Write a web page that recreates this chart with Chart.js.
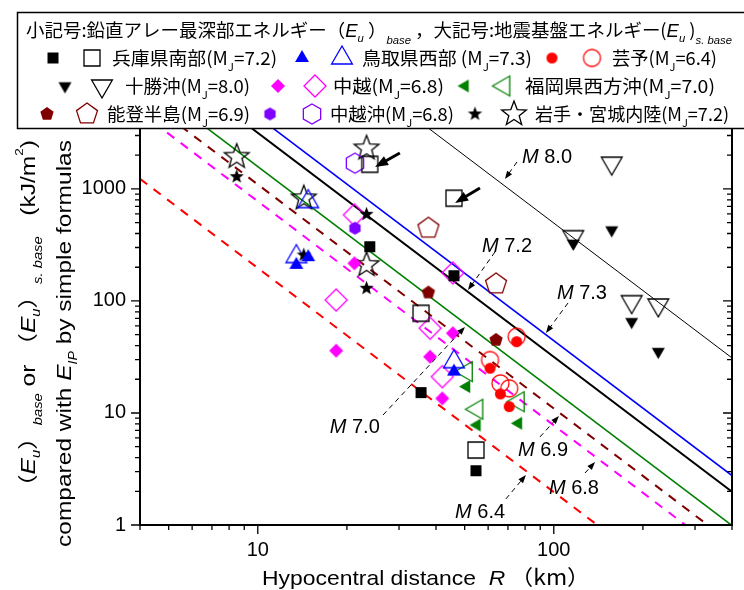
<!DOCTYPE html>
<html>
<head>
<meta charset="utf-8">
<script src="https://cdn.jsdelivr.net/npm/chart.js@4.4.0/dist/chart.umd.min.js"></script>
<style>
  html, body { margin: 0; padding: 0; background: #fff; }
</style>
</head>
<body>
<canvas id="energyChart" width="744" height="590"></canvas>
<script>
// hypocentral distance R (km); small marks = (Eu)base, large marks = (Eu)s.base (kJ/m2)
const hyogoR = [23.9, 46.0, 35.6, 54.6];
const hyogoBase = [305, 168, 15.2, 3.05];
const hyogoSBase = [1660, 826, 77.6, 4.67];

const tottoriR = [13.5, 14.8, 46.0];
const tottoriBase = [210, 246, 23.4];
const tottoriSBase = [249, 771, 28.7];

const geiyoR = [74.9, 60.9, 66.0, 70.7];
const geiyoBase = [43.3, 25.1, 14.8, 11.4];
const geiyoSBase = [48.0, 29.7, 18.4, 16.6];

const tokachiR = [156.9, 116.4, 183.3, 225.4];
const tokachiBase = [430, 327, 65.3, 35.3];
const tokachiSBase = [1700, 375, 98.6, 92.1];

const chuetsuR = [21.2, 18.4, 38.2, 42.0, 45.6];
const chuetsuBase = [217, 36.0, 31.8, 13.5, 51.5];
const chuetsuSBase = [587, 102, 57.1, 21.1, 178];

const fukuokaR = [50.7, 55.0, 75.9];
const fukuokaBase = [17.2, 7.81, 8.09];
const fukuokaSBase = [23.4, 10.8, 12.6];

const notoR = [37.7, 63.8];
const notoBase = [119, 44.9];
const notoSBase = [446, 142];

const chuetsuokiR = [21.3];
const chuetsuokiBase = [446];
const chuetsuokiSBase = [1700];

const iwateR = [8.49, 14.3, 23.3, 23.3];
const iwateBase = [1288, 257, 594, 130];
const iwateSBase = [1943, 826, 2308, 210];

// simple-formula lines, end values at R = 4 and R = 400
const lineR = [4, 400];
const lineM80 = [310000, 31];
const lineM73 = [27600, 2.76];
const lineM72 = [19800, 1.98];
const lineM70 = [9900, 0.99];
const lineM69 = [6850, 0.686];
const lineM68 = [4850, 0.485];
const lineM64 = [1230, 0.123];

const xTickLabels = [10, 100];
const yTickLabels = [1, 10, 100, 1000];
const xMinorTicks = [4, 5, 6, 7, 8, 9, 20, 30, 40, 50, 60, 70, 80, 90, 200, 300, 400];
const yMinorTicks = [2, 3, 4, 5, 6, 7, 8, 9, 20, 30, 40, 50, 60, 70, 80, 90,
  200, 300, 400, 500, 600, 700, 800, 900, 2000, 3000];

const JP = '"Noto Sans CJK JP"';
const LS = '"Liberation Sans"';

// ---------- marker images ----------
function shapePath(ctx, shape, r) {
  ctx.beginPath();
  if (shape === 'square') { ctx.rect(-r, -r, 2 * r, 2 * r); return; }
  if (shape === 'circle') { ctx.arc(0, 0, r, 0, Math.PI * 2); return; }
  let n = 3, rot = -90, inner = 0;
  if (shape === 'triDown') rot = 90;
  if (shape === 'triLeft') rot = 180;
  if (shape === 'diamond') n = 4;
  if (shape === 'pentagon') n = 5;
  if (shape === 'hexagon') n = 6;
  if (shape === 'star') { n = 5; inner = 0.42; }
  const steps = inner ? n * 2 : n;
  for (let i = 0; i < steps; i++) {
    const a = (rot + i * 360 / steps) * Math.PI / 180;
    const rr = inner && (i % 2) ? r * inner : r;
    if (i === 0) ctx.moveTo(rr * Math.cos(a), rr * Math.sin(a));
    else ctx.lineTo(rr * Math.cos(a), rr * Math.sin(a));
  }
  ctx.closePath();
}

function makeMarker(shape, r, color, filled) {
  const lw = 1.3;
  const size = Math.ceil(2 * r + lw + 4);
  const c = document.createElement('canvas');
  c.width = size;
  c.height = size;
  const ctx = c.getContext('2d');
  ctx.translate(size / 2, size / 2);
  shapePath(ctx, shape, r);
  if (filled) {
    ctx.fillStyle = color;
    ctx.fill();
  } else {
    ctx.strokeStyle = color;
    ctx.lineWidth = lw;
    ctx.stroke();
  }
  return c;
}

const events = [
  { name: '兵庫県南部', mj: '7.2', R: hyogoR, base: hyogoBase, sbase: hyogoSBase, shape: 'square', color: '#000000', rs: 5.5, rl: 8 },
  { name: '鳥取県西部 ', mj: '7.3', R: tottoriR, base: tottoriBase, sbase: tottoriSBase, shape: 'triUp', color: '#0000ff', rs: 8, rl: 12 },
  { name: '芸予', mj: '6.4', R: geiyoR, base: geiyoBase, sbase: geiyoSBase, shape: 'circle', color: '#ff0000', rs: 5.5, rl: 8.5 },
  { name: '十勝沖', mj: '8.0', R: tokachiR, base: tokachiBase, sbase: tokachiSBase, shape: 'triDown', color: '#000000', rs: 7.5, rl: 12 },
  { name: '中越', mj: '6.8', R: chuetsuR, base: chuetsuBase, sbase: chuetsuSBase, shape: 'diamond', color: '#ff00ff', rs: 7, rl: 11 },
  { name: '福岡県西方沖', mj: '7.0', R: fukuokaR, base: fukuokaBase, sbase: fukuokaSBase, shape: 'triLeft', color: '#008000', rs: 7.5, rl: 11.5 },
  { name: '能登半島', mj: '6.9', R: notoR, base: notoBase, sbase: notoSBase, shape: 'pentagon', color: '#800000', rs: 7, rl: 11 },
  { name: '中越沖', mj: '6.8', R: chuetsuokiR, base: chuetsuokiBase, sbase: chuetsuokiSBase, shape: 'hexagon', color: '#8000ff', rs: 6.5, rl: 10 },
  { name: '岩手・宮城内陸', mj: '7.2', R: iwateR, base: iwateBase, sbase: iwateSBase, shape: 'star', color: '#000000', rs: 7.5, rl: 13 }
];
events.forEach(function(ev) {
  ev.small = makeMarker(ev.shape, ev.rs, ev.color, true);
  ev.large = makeMarker(ev.shape, ev.rl, ev.color, false);
});

const lines = [
  { label: 'M8.0', data: lineM80, color: '#000000', width: 1, dash: [] },
  { label: 'M7.3', data: lineM73, color: '#0000ff', width: 1.6, dash: [] },
  { label: 'M7.2', data: lineM72, color: '#000000', width: 2, dash: [] },
  { label: 'M7.0', data: lineM70, color: '#008000', width: 1.6, dash: [] },
  { label: 'M6.9', data: lineM69, color: '#800000', width: 2, dash: [9, 8] },
  { label: 'M6.8', data: lineM68, color: '#ff00ff', width: 2, dash: [9, 8] },
  { label: 'M6.4', data: lineM64, color: '#ff0000', width: 2, dash: [9, 8] }
];

const datasets = [];
events.forEach(function(ev) {
  datasets.push({
    label: ev.name + ' base',
    data: ev.R.map((r, i) => ({ x: r, y: ev.base[i] })),
    pointStyle: ev.small, pointRadius: 6, order: 0
  });
  datasets.push({
    label: ev.name + ' s.base',
    data: ev.R.map((r, i) => ({ x: r, y: ev.sbase[i] })),
    pointStyle: ev.large, pointRadius: 8, order: 1
  });
});
lines.forEach(function(ln) {
  datasets.push({
    label: ln.label,
    data: lineR.map((r, i) => ({ x: r, y: ln.data[i] })),
    showLine: true, pointRadius: 0, borderColor: ln.color, borderWidth: ln.width,
    borderDash: ln.dash, clip: 0, order: 2
  });
});

// ---------- helpers for drawing text ----------
function drawRich(ctx, x, y, segs, fitWidth) {
  let w = 0;
  segs.forEach(s => { ctx.font = s.f; w += ctx.measureText(s.t).width; });
  const k = fitWidth ? fitWidth / w : 1;
  ctx.save();
  ctx.translate(x, y);
  ctx.scale(k, 1);
  let cx = 0;
  segs.forEach(s => {
    ctx.font = s.f;
    ctx.fillText(s.t, cx, s.dy || 0);
    cx += ctx.measureText(s.t).width;
  });
  ctx.restore();
  return w * k;
}

function arrowHead(ctx, x1, y1, x2, y2, len, half) {
  const a = Math.atan2(y2 - y1, x2 - x1);
  const bx = x2 - len * Math.cos(a), by = y2 - len * Math.sin(a);
  ctx.beginPath();
  ctx.moveTo(x2, y2);
  ctx.lineTo(bx + half * Math.sin(a), by - half * Math.cos(a));
  ctx.lineTo(bx - half * Math.sin(a), by + half * Math.cos(a));
  ctx.closePath();
  ctx.fill();
}

// magnitude callouts in data coordinates [R, E]
const callouts = [
  { m: '8.0', tip: [68.4, 1228], tail: [75.1, 1742], text: [78.1, 1706] },
  { m: '7.2', tip: [51.3, 125], tail: [63.3, 274], text: [57.2, 274] },
  { m: '7.3', tip: [94.1, 51.8], tail: [111.7, 95.9], text: [102.5, 104] },
  { m: '7.0', tip: [50.1, 58.6], tail: [26.5, 9.6], text: [17.5, 6.63] },
  { m: '6.9', tip: [104.1, 9.4], tail: [89.8, 6.11], text: [75.7, 4.13] },
  { m: '6.8', tip: [137.8, 3.65], tail: [127.5, 2.91], text: [96.3, 1.89] },
  { m: '6.4', tip: [80.5, 2.79], tail: [68.9, 1.71], text: [46.4, 1.155] }
];
const boldArrows = [
  { tail: [30.2, 2096], tip: [24.9, 1572] },
  { tail: [56.3, 1021], tip: [46.4, 750] }
];

const decorations = {
  id: 'decorations',
  afterDatasetsDraw(chart) {
    const ctx = chart.ctx;
    const xs = chart.scales.x, ys = chart.scales.y;
    const a = chart.chartArea;
    const px = v => xs.getPixelForValue(v), py = v => ys.getPixelForValue(v);
    ctx.save();
    ctx.strokeStyle = '#000';
    ctx.fillStyle = '#000';

    // frame
    ctx.lineWidth = 2;
    ctx.beginPath();
    ctx.moveTo(a.left, a.top);
    ctx.lineTo(a.left, a.bottom);
    ctx.lineTo(a.right, a.bottom);
    ctx.lineTo(a.right, a.top);
    ctx.stroke();

    // ticks
    ctx.lineWidth = 1.3;
    ctx.beginPath();
    xTickLabels.concat(xMinorTicks).forEach(v => {
      const len = xTickLabels.includes(v) ? 9 : 5;
      ctx.moveTo(px(v), a.bottom);
      ctx.lineTo(px(v), a.bottom + len);
    });
    yTickLabels.concat(yMinorTicks).forEach(v => {
      const len = yTickLabels.includes(v) ? 9 : 5;
      ctx.moveTo(a.left, py(v));
      ctx.lineTo(a.left - len, py(v));
      ctx.moveTo(a.right, py(v));
      ctx.lineTo(a.right - len, py(v));
    });
    ctx.stroke();

    // callouts
    callouts.forEach(c => {
      const tx = px(c.tip[0]), ty = py(c.tip[1]);
      const sx = px(c.tail[0]), sy = py(c.tail[1]);
      const ang = Math.atan2(ty - sy, tx - sx);
      ctx.lineWidth = 1;
      ctx.setLineDash([5, 4]);
      ctx.beginPath();
      ctx.moveTo(sx, sy);
      ctx.lineTo(tx - 7 * Math.cos(ang), ty - 7 * Math.sin(ang));
      ctx.stroke();
      ctx.setLineDash([]);
      arrowHead(ctx, sx, sy, tx, ty, 8, 3);
      drawRich(ctx, px(c.text[0]), py(c.text[1]), [
        { t: 'M', f: 'italic 20px ' + LS },
        { t: ' ' + c.m, f: '20px ' + LS }
      ]);
    });

    // bold arrows at the two open squares
    boldArrows.forEach(b => {
      const tx = px(b.tip[0]), ty = py(b.tip[1]);
      const sx = px(b.tail[0]), sy = py(b.tail[1]);
      const ang = Math.atan2(ty - sy, tx - sx);
      ctx.lineWidth = 3;
      ctx.beginPath();
      ctx.moveTo(sx, sy);
      ctx.lineTo(tx - 8 * Math.cos(ang), ty - 8 * Math.sin(ang));
      ctx.stroke();
      arrowHead(ctx, sx, sy, tx, ty, 13, 5);
    });
    ctx.restore();
  },

  afterDraw(chart) {
    const ctx = chart.ctx;
    ctx.save();
    ctx.fillStyle = '#000';
    ctx.textBaseline = 'alphabetic';

    // legend box
    ctx.fillStyle = '#fff';
    ctx.fillRect(17, 12, 760, 116);
    ctx.strokeStyle = '#000';
    ctx.lineWidth = 1.5;
    ctx.strokeRect(17.5, 12.5, 760, 116);
    ctx.fillStyle = '#000';

    const big = '18px ' + JP, sub = '11px ' + JP;
    const ital = 'italic 18px ' + LS, isub = 'italic 11px ' + LS;
    drawRich(ctx, 26, 37, [
      { t: '小記号:鉛直アレー最深部エネルギー（', f: big },
      { t: 'E', f: ital },
      { t: 'u', f: isub, dy: 5 },
      { t: ' ）', f: big },
      { t: 'base', f: isub, dy: 7 },
      { t: ' ，大記号:地震基盤エネルギー(', f: big },
      { t: 'E', f: ital },
      { t: 'u', f: isub, dy: 5 },
      { t: ' )', f: big },
      { t: 's. base', f: isub, dy: 7 }
    ], 706);

    // [event, small x, large x, text x, text width]
    const rows = [
      { y: 58, items: [[0, 53, 92, 112, 165], [1, 302, 342, 362, 170], [2, 552, 592, 612, 105]] },
      { y: 86, items: [[3, 65, 102, 125, 125], [4, 278, 315, 333, 111], [5, 465, 504, 525, 190]] },
      { y: 114, items: [[6, 47, 87, 107, 143], [7, 270, 312, 330, 124], [8, 475, 514, 535, 194]] }
    ];
    rows.forEach(row => {
      row.items.forEach(it => {
        const ev = events[it[0]];
        ctx.drawImage(ev.small, it[1] - ev.small.width / 2, row.y - ev.small.height / 2);
        ctx.drawImage(ev.large, it[2] - ev.large.width / 2, row.y - ev.large.height / 2);
        drawRich(ctx, it[3], row.y + 7, [
          { t: ev.name + '(M', f: big },
          { t: 'J', f: sub, dy: 6 },
          { t: '=' + ev.mj + ')', f: big }
        ], it[4]);
      });
    });

    // x axis title
    drawRich(ctx, 262, 585, [
      { t: 'Hypocentral distance  ', f: '21px ' + LS },
      { t: 'R', f: 'italic 21px ' + LS },
      { t: ' （km）', f: '21px ' + JP }
    ], 328);

    // y axis title (two rotated lines)
    ctx.save();
    ctx.translate(35, 499);
    ctx.rotate(-Math.PI / 2);
    drawRich(ctx, 0, 0, [
      { t: '（', f: '20px ' + JP },
      { t: 'E', f: 'italic 20px ' + LS },
      { t: 'u', f: 'italic 12px ' + LS, dy: 5 },
      { t: '）', f: '20px ' + JP },
      { t: 'base', f: 'italic 12px ' + LS, dy: 7 },
      { t: ' or ', f: '20px ' + LS },
      { t: '（', f: '20px ' + JP },
      { t: 'E', f: 'italic 20px ' + LS },
      { t: 'u', f: 'italic 12px ' + LS, dy: 5 },
      { t: '）', f: '20px ' + JP },
      { t: 's. base', f: 'italic 12px ' + LS, dy: 7 },
      { t: '   (kJ/m', f: '20px ' + LS },
      { t: '2', f: '11px ' + LS, dy: -12 },
      { t: ')', f: '20px ' + LS }
    ], 359);
    ctx.restore();

    ctx.save();
    ctx.translate(71, 547);
    ctx.rotate(-Math.PI / 2);
    drawRich(ctx, 0, 0, [
      { t: 'compared with ', f: '21px ' + LS },
      { t: 'E', f: 'italic 21px ' + LS },
      { t: 'IP', f: 'italic 12px ' + LS, dy: 6 },
      { t: ' by simple formulas', f: '21px ' + LS }
    ], 407);
    ctx.restore();

    ctx.restore();
  }
};

new Chart(document.getElementById('energyChart').getContext('2d'), {
  type: 'scatter',
  data: { datasets: datasets },
  options: {
    responsive: false,
    animation: false,
    devicePixelRatio: 1,
    events: [],
    layout: { padding: { top: 128, right: 12, left: 0, bottom: 0 } },
    plugins: { legend: { display: false }, tooltip: { enabled: false } },
    scales: {
      x: {
        type: 'logarithmic', min: 4, max: 400, bounds: 'data',
        grid: { display: false, drawTicks: false },
        border: { display: false },
        afterBuildTicks: s => { s.ticks = xTickLabels.map(v => ({ value: v })); },
        afterFit: s => { s.height = 65; },
        ticks: {
          callback: v => String(v), color: '#000', padding: 13,
          maxRotation: 0, autoSkip: false, font: { family: 'Liberation Sans', size: 20 }
        }
      },
      y: {
        type: 'logarithmic', min: 1, max: 3500, bounds: 'data',
        grid: { display: false, drawTicks: false },
        border: { display: false },
        afterBuildTicks: s => { s.ticks = yTickLabels.map(v => ({ value: v })); },
        afterFit: s => { s.width = 140; },
        ticks: {
          callback: v => String(v), color: '#000', padding: 14,
          autoSkip: false, font: { family: 'Liberation Sans', size: 20 }
        }
      }
    }
  },
  plugins: [decorations]
});
</script>
</body>
</html>
